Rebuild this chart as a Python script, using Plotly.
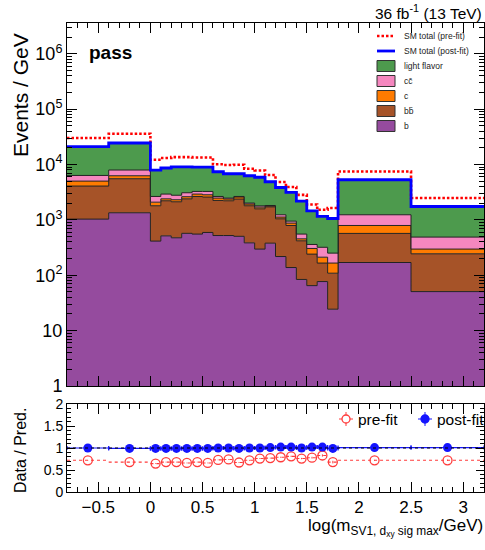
import numpy as np
import plotly.graph_objects as go

# ---- binning in log(m_SV1) ----
edges = [-0.8, -0.4, 0.0, 0.1, 0.2, 0.3, 0.4, 0.5, 0.6, 0.7, 0.8, 0.9,
         1.0, 1.1, 1.2, 1.3, 1.4, 1.5, 1.6, 1.7, 1.8, 2.5, 3.2]

# ---- post-fit templates, events / GeV (stacked bottom -> top) ----
b_jets = [1033, 1344, 414, 515, 475, 572, 554, 593, 522, 522, 505, 385,
          297, 380, 218, 138, 84, 65, 77, 24.4, 170, 50.7]
bbbar_jets = [3052, 4196, 1386, 1700, 1650, 1828, 2096, 1992, 1723, 1693, 1875, 1415,
              1288, 1340, 829, 655, 335, 176, 89, 84.6, 400, 193.3]
c_jets = [930, 730, 290, 185, 185, 220, 275, 260, 230, 165, 205, 130,
          115, 60, 76, 82, 36, 64, 46, 57, 223, 53]
ccbar_jets = [1335, 1680, 560, 525, 475, 470, 340, 420, 175, 95, 65, 85,
              90, 40, 114, 75, 99, 55, 108, 85, 444, 192]
light_jets = [14650, 16550, 5300, 5725, 6315, 6010, 5735, 5735, 4760, 4345, 4170, 4255,
              4100, 3070, 2613, 2180, 1636, 1100, 840, 809, 4073, 1258]

# ---- pre-fit SM total ----
prefit_total = [30100, 36000, 12200, 13100, 13600, 13600, 13400, 13400, 10100, 9800, 9900, 8400,
                7800, 6480, 4820, 3920, 2830, 1900, 1520, 1635, 7500, 2480]

# ---- data / prediction ratios ----
ratio_prefit = [0.72, 0.68, 0.645, 0.68, 0.68, 0.66, 0.68, 0.66, 0.73, 0.74, 0.67, 0.72,
                0.76, 0.77, 0.79, 0.81, 0.76, 0.78, 0.83, 0.68, 0.72, 0.72]
ratio_prefit_err = [0.005, 0.005, 0.008, 0.008, 0.008, 0.008, 0.008, 0.008, 0.008, 0.008, 0.01, 0.01,
                    0.01, 0.01, 0.012, 0.015, 0.015, 0.02, 0.025, 0.03, 0.01, 0.015]
ratio_postfit = [1.00, 0.99, 0.99, 0.99, 0.99, 0.99, 0.99, 0.99, 1.00, 1.00, 0.99, 1.00,
                 1.00, 1.01, 1.02, 1.02, 1.00, 1.02, 1.02, 0.99, 1.01, 1.01]
ratio_postfit_err = [0.007, 0.007, 0.01, 0.01, 0.01, 0.01, 0.01, 0.01, 0.01, 0.01, 0.012, 0.012,
                     0.012, 0.012, 0.015, 0.02, 0.02, 0.025, 0.03, 0.035, 0.012, 0.02]

layer_names = ["b", "b\u0062\u0304", "c", "c\u0063\u0304", "light flavor"]
layer_colors = ["#954b9e", "#a65328", "#ff7b00", "#f587bf", "#4d9a4d"]
layer_values = [b_jets, bbbar_jets, c_jets, ccbar_jets, light_jets]

edges_a = np.array(edges)
centers = 0.5 * (edges_a[:-1] + edges_a[1:])
halfw = 0.5 * (edges_a[1:] - edges_a[:-1])


def step(vals):
    v = list(vals)
    return v + [v[-1]]


fig = go.Figure()

# baseline for the first filled layer (below the visible log range)
fig.add_trace(go.Scatter(x=edges, y=[0.01] * len(edges), mode="lines",
                         line=dict(width=0, shape="hv"), hoverinfo="skip",
                         xaxis="x", yaxis="y"))

cum = np.zeros(len(b_jets))
for name, vals, col in zip(layer_names, layer_values, layer_colors):
    cum = cum + np.array(vals, dtype=float)
    fig.add_trace(go.Scatter(x=edges, y=step(cum), mode="lines", name=name,
                             line=dict(color="#222222", width=1, shape="hv"),
                             fill="tonexty", fillcolor=col,
                             xaxis="x", yaxis="y"))

# SM totals
fig.add_trace(go.Scatter(x=edges, y=step(prefit_total), mode="lines", name="SM total (pre-fit)",
                         line=dict(color="#ff0000", width=2.6, dash="2.5px,2px", shape="hv"),
                         xaxis="x", yaxis="y"))
fig.add_trace(go.Scatter(x=edges, y=step(cum), mode="lines", name="SM total (post-fit)",
                         line=dict(color="#0000ff", width=2.8, shape="hv"),
                         xaxis="x", yaxis="y"))

# ---- ratio panel ----
seg_x, seg_y = [], []
for lo, hi, r in zip(edges[:-1], edges[1:], ratio_prefit):
    seg_x += [lo, hi, None]
    seg_y += [r, r, None]
fig.add_trace(go.Scatter(x=seg_x, y=seg_y, mode="lines",
                         line=dict(color="#ff3b3b", width=1.1, dash="3px,3px"),
                         xaxis="x2", yaxis="y2"))
fig.add_trace(go.Scatter(x=centers, y=ratio_prefit, mode="markers", name="pre-fit",
                         marker=dict(symbol="circle-open", size=9, color="#ff3b3b",
                                     line=dict(width=1.3, color="#ff3b3b")),
                         error_y=dict(type="data", array=ratio_prefit_err, color="#ff3b3b",
                                      thickness=1, width=0),
                         xaxis="x2", yaxis="y2"))
fig.add_trace(go.Scatter(x=centers, y=ratio_postfit, mode="markers", name="post-fit",
                         marker=dict(symbol="circle", size=9, color="#1414ff"),
                         error_x=dict(type="data", array=halfw, color="#1414ff",
                                      thickness=1.2, width=2),
                         error_y=dict(type="data", array=ratio_postfit_err, color="#1414ff",
                                      thickness=1, width=0),
                         xaxis="x2", yaxis="y2"))

# ---- layout geometry ----
W, H = 485, 550
L, R, T, B = 67, 1, 23, 58
PW, PH = W - L - R, H - T - B


def px(xp):
    return (xp - L) / PW


def py(yp):
    return (H - B - yp) / PH


main_bottom = py(386)
ratio_top = py(404)

font_family = "Liberation Sans, Arial, Helvetica, sans-serif"

axis_common = dict(showline=True, linecolor="black", linewidth=1, mirror="allticks",
                   ticks="inside", tickcolor="black", tickwidth=1,
                   showgrid=False, zeroline=False)

log_major = [1, 10, 100, 1000, 1e4, 1e5, 1e6]
log_labels = ["1", "10", "10<sup>2</sup>", "10<sup>3</sup>", "10<sup>4</sup>",
              "10<sup>5</sup>", "10<sup>6</sup>"]
log_minor = [m * 10 ** k for k in range(0, 7) for m in range(2, 10)]

fig.update_layout(
    width=W, height=H,
    margin=dict(l=L, r=R, t=T, b=B),
    paper_bgcolor="white", plot_bgcolor="white",
    showlegend=False,
    font=dict(family=font_family, color="black"),
    xaxis=dict(domain=[0, 1], anchor="y", range=[-0.8, 3.2], showticklabels=False,
               tick0=0, dtick=0.5, ticklen=10,
               minor=dict(ticks="inside", tick0=0, dtick=0.1, ticklen=5, tickcolor="black"),
               **axis_common),
    yaxis=dict(domain=[main_bottom, 1], anchor="x", type="log", range=[0, 6.556],
               tickmode="array", tickvals=log_major, ticktext=log_labels, ticklen=10,
               tickfont=dict(size=18),
               minor=dict(ticks="inside", tickmode="array", tickvals=log_minor, ticklen=5,
                          tickcolor="black"),
               **axis_common),
    xaxis2=dict(domain=[0, 1], anchor="y2", range=[-0.8, 3.2],
                tick0=0, dtick=0.5, ticklen=10, tickfont=dict(size=17),
                minor=dict(ticks="inside", tick0=0, dtick=0.1, ticklen=5, tickcolor="black"),
                **axis_common),
    yaxis2=dict(domain=[0, ratio_top], anchor="x2", range=[0, 2],
                tickmode="array", tickvals=[0, 0.5, 1, 1.5, 2], ticktext=["0", "0.5", "1", "1.5", "2"],
                ticklen=8, tickfont=dict(size=14),
                minor=dict(ticks="inside", dtick=0.1, tick0=0, ticklen=4, tickcolor="black"),
                **axis_common),
)

shapes = []
annotations = []

# unity line in the ratio panel
shapes.append(dict(type="line", xref="x2 domain", yref="y2", x0=0, x1=1, y0=1, y1=1,
                   line=dict(color="black", width=1, dash="dot")))

# ---- main legend ----
rows = [36, 51, 66, 81, 96, 111, 126]
lx0, lx1, tx = 377, 395, 402
shapes.append(dict(type="line", xref="paper", yref="paper", x0=px(lx0), x1=px(lx1),
                   y0=py(rows[0]), y1=py(rows[0]),
                   line=dict(color="#ff0000", width=2.6, dash="2.5px,2px")))
shapes.append(dict(type="line", xref="paper", yref="paper", x0=px(lx0), x1=px(lx1),
                   y0=py(rows[1]), y1=py(rows[1]),
                   line=dict(color="#0000ff", width=2.8)))
legend_texts = ["SM total (pre-fit)", "SM total (post-fit)"]
for i, (name, col) in enumerate(zip(layer_names[::-1], layer_colors[::-1])):
    yc = rows[2 + i]
    shapes.append(dict(type="rect", xref="paper", yref="paper",
                       x0=px(lx0), x1=px(lx1), y0=py(yc - 5.5), y1=py(yc + 5.5),
                       fillcolor=col, line=dict(color="#333333", width=1)))
    legend_texts.append(name)
for yc, txt in zip(rows, legend_texts):
    annotations.append(dict(xref="paper", yref="paper", x=px(tx), y=py(yc), text=txt,
                            showarrow=False, xanchor="left", yanchor="middle",
                            font=dict(size=8.5, color="#222222")))

# ---- ratio legend ----
ly = 419
for xc, col, filled, txt in [(346, "#ff3b3b", False, "pre-fit"), (425, "#1414ff", True, "post-fit")]:
    shapes.append(dict(type="line", xref="paper", yref="paper", x0=px(xc), x1=px(xc),
                       y0=py(ly - 7), y1=py(ly + 7), line=dict(color=col, width=1)))
    shapes.append(dict(type="line", xref="paper", yref="paper", x0=px(xc - 7), x1=px(xc + 7),
                       y0=py(ly), y1=py(ly), line=dict(color=col, width=1)))
    shapes.append(dict(type="circle", xref="paper", yref="paper",
                       x0=px(xc - 4), x1=px(xc + 4), y0=py(ly + 4), y1=py(ly - 4),
                       fillcolor=col if filled else "white", line=dict(color=col, width=1.3)))
    annotations.append(dict(xref="paper", yref="paper", x=px(xc + 10), y=py(ly), text=txt,
                            showarrow=False, xanchor="left", yanchor="middle",
                            font=dict(size=15.5)))

# ---- labels ----
annotations.append(dict(xref="paper", yref="paper", x=px(484), y=py(12),
                        text="36 fb<sup>-1</sup> (13 TeV)", showarrow=False,
                        xanchor="right", yanchor="middle", font=dict(size=15.5)))
annotations.append(dict(xref="paper", yref="paper", x=px(87), y=py(52),
                        text="<b>pass</b>", showarrow=False,
                        xanchor="left", yanchor="middle", font=dict(size=19)))
annotations.append(dict(xref="paper", yref="paper", x=px(20), y=py(31),
                        text="Events / GeV", showarrow=False, textangle=-90,
                        xanchor="center", yanchor="top", font=dict(size=21)))
annotations.append(dict(xref="paper", yref="paper", x=px(20), y=py(451),
                        text="Data / Pred.", showarrow=False, textangle=-90,
                        xanchor="center", yanchor="middle", font=dict(size=16)))
annotations.append(dict(xref="paper", yref="paper", x=px(485), y=py(527),
                        text="log(m<sub>SV1, d<sub>xy</sub> sig max</sub>/GeV)", showarrow=False,
                        xanchor="right", yanchor="middle", font=dict(size=17)))

fig.update_layout(shapes=shapes, annotations=annotations)

fig.write_html("out.html")
